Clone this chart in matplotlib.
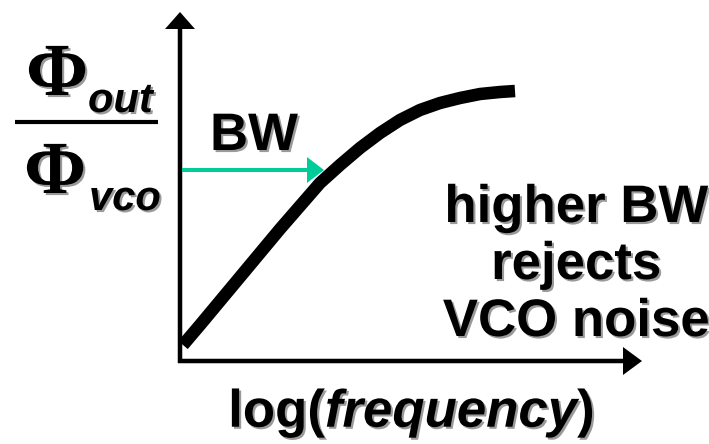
import matplotlib
matplotlib.use("Agg")
import matplotlib.pyplot as plt
import matplotlib.patheffects as pe

# curve of the closed-loop VCO transfer (pixel coords)
curveX = [183, 200, 220, 240, 260, 280, 300, 320, 340, 360, 380, 400, 420, 440, 460, 480, 500, 515]
curveY = [345, 325, 301, 277, 253, 229, 206, 183, 165, 148, 133, 120, 110, 103, 98, 94, 92, 91]

bwLabel = "BW"
noteLines = ["higher BW", "rejects", "VCO noise"]
xLabelParts = ["log(", "frequency", ")"]
numSub = "out"
denSub = "vco"

plt.rcParams['mathtext.fontset'] = 'custom'
plt.rcParams['mathtext.it'] = 'Liberation Sans:bold:italic'

fig = plt.figure(figsize=(7.09, 4.44), dpi=100)
ax = fig.add_axes([0, 0, 1, 1])
ax.set_xlim(0, 709)
ax.set_ylim(444, 0)
ax.axis('off')

shadow = [pe.withSimplePatchShadow(offset=(1.5, -1.5), shadow_rgbFace='#9a9a9a', alpha=1.0)]
sans = dict(family='Liberation Sans', weight='bold')

# axes with arrow heads
ax.arrow(180, 363, 0, -351, width=4.5, head_width=30, head_length=17,
         length_includes_head=True, color='black', lw=0)
ax.arrow(178, 361, 464, 0, width=4.5, head_width=28, head_length=19,
         length_includes_head=True, color='black', lw=0)

# the curve
ax.plot(curveX, curveY, color='black', lw=9, solid_capstyle='butt', solid_joinstyle='round')

# bandwidth arrow
ax.arrow(182, 170, 142, 0, width=4, head_width=26, head_length=17,
         length_includes_head=True, color='#00CC99', lw=0)

ax.text(210, 150, bwLabel, fontsize=38, va='baseline', ha='left', path_effects=shadow, **sans)

for i, line in enumerate(noteLines):
    ax.text(576, 222 + i * 57, line, fontsize=38, va='baseline', ha='center',
            path_effects=shadow, **sans)

ax.text(411, 427, xLabelParts[0] + r"$\mathit{" + xLabelParts[1] + "}$" + xLabelParts[2],
        fontsize=38, va='baseline', ha='center', path_effects=shadow, **sans)

# y label: fraction Phi_out / Phi_vco
ax.text(26, 95, "\u03a6", fontsize=54, family='Liberation Serif', weight='bold',
        va='baseline', ha='left', path_effects=shadow)
ax.text(88, 112, numSub, fontsize=30, va='baseline', ha='left', style='italic',
        path_effects=shadow, **sans)
ax.plot([15, 158], [122, 122], color='black', lw=3, solid_capstyle='butt')
ax.text(24, 193, "\u03a6", fontsize=54, family='Liberation Serif', weight='bold',
        va='baseline', ha='left', path_effects=shadow)
ax.text(89, 210, denSub, fontsize=30, va='baseline', ha='left', style='italic',
        path_effects=shadow, **sans)

fig.savefig("out.png", dpi=100)
